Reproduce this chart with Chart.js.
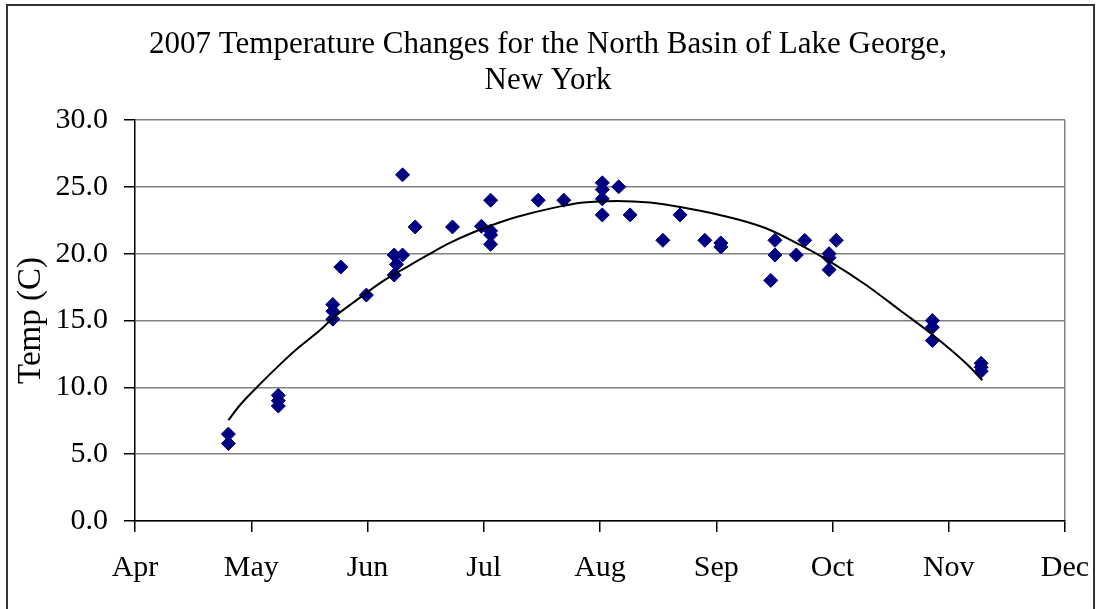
<!DOCTYPE html>
<html>
<head>
<meta charset="utf-8">
<script src="https://cdn.jsdelivr.net/npm/chart.js@4.4.0/dist/chart.umd.min.js"></script>
<style>
  html, body { margin: 0; padding: 0; background: #fff; }
  #wrap { width: 1096px; height: 609px; position: relative; }
</style>
</head>
<body>
<div id="wrap"><canvas id="c" width="1096" height="609"></canvas></div>
<script>
// ---- data (x = days after 1 April 2007) ----
const monthLabels = ['Apr', 'May', 'Jun', 'Jul', 'Aug', 'Sep', 'Oct', 'Nov', 'Dec'];
const titleLines = ['2007 Temperature Changes for the North Basin of Lake George,', 'New York'];
const yAxisTitle = 'Temp (C)';

const sampleDays = [
  24.5, 24.5,
  37.6, 37.6, 37.6,
  51.9, 51.9, 51.9,
  54.0, 60.7,
  68.0, 70.2, 68.6, 68.0, 70.2,
  73.5, 83.3, 90.9,
  93.3, 93.3, 93.3, 93.3,
  105.8, 112.5,
  122.6, 122.6, 122.6, 122.6,
  126.9, 129.9, 138.5, 143.0, 149.5,
  153.7, 153.7,
  166.8, 167.9, 167.9, 173.5, 175.7,
  182.1, 182.1, 182.1, 184.0,
  209.2, 209.2, 209.2,
  222.0, 222.0, 222.0
];
const sampleTemps = [
  6.5, 5.8,
  9.4, 9.0, 8.6,
  16.2, 15.7, 15.1,
  19.0, 16.9,
  19.9, 19.9, 19.2, 18.4, 25.9,
  22.0, 22.0, 22.05,
  24.0, 21.7, 21.4, 20.7,
  24.0, 24.0,
  25.3, 24.8, 24.1, 22.9,
  25.0, 22.9, 21.0, 22.9, 21.0,
  20.8, 20.5,
  18.0, 21.0, 19.9, 19.9, 21.0,
  20.0, 19.7, 18.8, 21.0,
  15.0, 14.5, 13.5,
  11.8, 11.5, 11.2
];

// trendline
const trendDays = [24.5, 27.5, 32.3, 38.0, 42.4, 48.5, 52.0, 57.3, 64.3, 71.3, 76.5, 82.6, 88.8, 95.8,
  100.1, 108.9, 117.6, 126.4, 135.1, 143.8, 152.6, 157.0, 165.7, 174.5, 183.2, 191.9, 200.7, 209.4, 218.1, 222.3];
const trendTemps = [7.54, 8.66, 10.1, 11.7, 12.85, 14.27, 15.2, 16.35, 17.8, 19.0, 19.85, 20.8, 21.6, 22.35,
  22.74, 23.37, 23.82, 23.94, 23.82, 23.45, 22.95, 22.65, 21.88, 20.65, 19.26, 17.64, 15.77, 13.9, 11.78, 10.53];

const xMin = 0, xMax = 244, xStep = 30.5;
const yMin = 0, yMax = 30, yStep = 5;

// ---- build ----
const FONT = 'Liberation Serif, Times New Roman, serif';
const points = sampleDays.map((d, i) => ({ x: d, y: sampleTemps[i] }));
const trend = trendDays.map((d, i) => ({ x: d, y: trendTemps[i] }));

const frame = {
  id: 'frame',
  beforeDraw(chart) {
    const ctx = chart.ctx;
    ctx.save();
    ctx.fillStyle = '#fff';
    ctx.fillRect(0, 0, chart.width, chart.height);
    ctx.strokeStyle = '#333';
    ctx.lineWidth = 2;
    ctx.strokeRect(7, 5, 1087, 700);
    ctx.restore();
  }
};

new Chart(document.getElementById('c'), {
  type: 'scatter',
  data: {
    datasets: [
      {
        label: 'Trend',
        data: trend,
        showLine: true,
        borderColor: '#000',
        borderWidth: 2,
        pointRadius: 0,
        cubicInterpolationMode: 'monotone',
        fill: false
      },
      {
        label: 'Temp',
        data: points,
        pointStyle: 'rectRot',
        pointRadius: 7,
        backgroundColor: '#000080',
        borderColor: '#000080',
        borderWidth: 1
      }
    ]
  },
  options: {
    responsive: false,
    animation: false,
    devicePixelRatio: 1,
    layout: { padding: 0 },
    plugins: {
      legend: { display: false },
      tooltip: { enabled: false },
      title: {
        display: true,
        text: titleLines,
        color: '#000',
        font: { family: FONT, size: 31, weight: 'normal', lineHeight: '36px' },
        padding: { top: 26.5, bottom: 21.5 }
      }
    },
    scales: {
      x: {
        type: 'linear',
        min: xMin, max: xMax,
        afterFit(s) { s.height = 88; s.paddingRight = 31; s.paddingLeft = 0; },
        ticks: {
          stepSize: xStep,
          autoSkip: false,
          maxRotation: 0,
          padding: 18,
          color: '#000',
          font: { family: FONT, size: 30 },
          callback: (v, i) => monthLabels[i]
        },
        grid: {
          color: (c) => (c.index === monthLabels.length - 1 ? '#808080' : 'rgba(0,0,0,0)'),
          lineWidth: 1.5,
          tickLength: 11,
          tickColor: '#000',
          tickWidth: 1.5
        },
        border: { color: '#000', width: 1.5 }
      },
      y: {
        min: yMin, max: yMax,
        afterFit(s) { s.width = 135; s.paddingTop = 0; s.paddingBottom = 0; },
        ticks: {
          stepSize: yStep,
          padding: 16,
          color: '#000',
          font: { family: FONT, size: 30 },
          callback: (v) => Number(v).toFixed(1)
        },
        grid: {
          color: '#808080',
          lineWidth: 1.5,
          tickLength: 11,
          tickColor: '#000',
          tickWidth: 1.5
        },
        border: { color: '#000', width: 1.5 },
        title: {
          display: true,
          text: yAxisTitle,
          color: '#000',
          font: { family: FONT, size: 33 },
          padding: { top: 12, bottom: 0 }
        }
      }
    }
  },
  plugins: [frame]
});
</script>
</body>
</html>
